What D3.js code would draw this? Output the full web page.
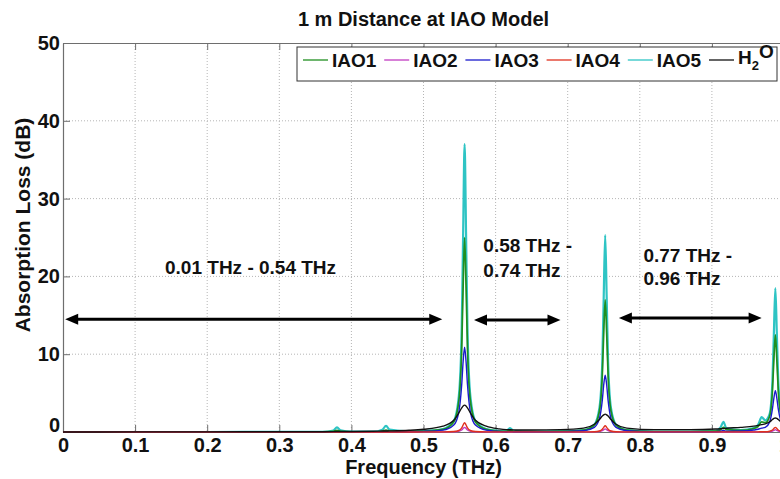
<!DOCTYPE html>
<html><head><meta charset="utf-8">
<script src="https://cdn.jsdelivr.net/npm/d3@7"></script>
<style>
html,body{margin:0;padding:0;background:#fff;}
svg{display:block;font-family:"Liberation Sans",Arial,sans-serif;}
</style></head>
<body><svg id="c" width="780" height="479"></svg>
<script>
// ---- data ----
const freq = [0,0.1,0.2,0.3,0.36,0.375,0.38,0.385,0.40,0.43,0.443,0.448,0.453,0.48,0.50,0.527,0.542,0.549,0.553,0.555,0.557,0.559,0.561,0.565,0.572,0.587,0.605,0.615,0.62,0.625,0.65,0.69,0.722,0.737,0.744,0.748,0.750,0.752,0.754,0.756,0.760,0.767,0.782,0.82,0.87,0.905,0.912,0.916,0.92,0.94,0.958,0.964,0.969,0.974,0.980,0.984,0.986,0.988,0.990,0.992,0.996,1.0];
const iao5 = [0,0,0,0.02,0.03,0.2,0.6,0.2,0.04,0.05,0.3,0.8,0.3,0.08,0.12,0.37,1.42,4.6,13.3,25.7,37,25.7,13.3,4.6,1.42,0.37,0.15,0.15,0.5,0.15,0.06,0.1,0.25,0.97,3.1,9.1,17.6,25.3,17.6,9.1,3.1,0.97,0.25,0.06,0.05,0.15,0.6,1.3,0.5,0.25,0.5,0.9,1.9,1.5,2.3,6.65,12.85,18.5,12.85,6.65,2.3,1.09];
const iao1 = [0,0,0,0.01,0.02,0.08,0.2,0.08,0.02,0.03,0.1,0.25,0.1,0.06,0.1,0.34,1.29,4.0,10.8,18.8,25,18.8,10.8,4.0,1.29,0.34,0.12,0.08,0.2,0.08,0.04,0.08,0.23,0.88,2.7,7.4,12.8,17,12.8,7.4,2.7,0.88,0.23,0.05,0.04,0.1,0.3,0.6,0.3,0.2,0.45,0.7,1.3,1.2,2.0,5.4,9.4,12.5,9.4,5.4,2.0,0.98];
const iao3 = [0,0,0,0,0,0.02,0.05,0.02,0,0.01,0.03,0.06,0.03,0.04,0.08,0.24,0.9,2.6,6.1,9.1,10.9,9.1,6.1,2.6,0.9,0.24,0.08,0.04,0.06,0.04,0.03,0.05,0.16,0.6,1.75,4.1,6.1,7.3,6.1,4.1,1.75,0.6,0.16,0.04,0.03,0.05,0.1,0.2,0.1,0.12,0.25,0.35,0.5,0.6,1.27,3.0,4.4,5.3,4.4,3.0,1.27,0.65];
const h2o  = [0,0.01,0.02,0.03,0.04,0.05,0.06,0.06,0.07,0.1,0.12,0.13,0.14,0.22,0.35,0.75,1.5,2.45,3.1,3.35,3.45,3.35,3.1,2.45,1.5,0.75,0.4,0.3,0.28,0.27,0.25,0.3,0.5,1.0,1.6,2.05,2.2,2.3,2.2,2.05,1.6,1.0,0.5,0.3,0.3,0.38,0.42,0.45,0.48,0.6,0.75,0.85,0.95,1.05,1.3,1.6,1.75,1.8,1.75,1.6,1.3,1.0];
const iao4 = [0,0,0,0,0,0,0,0,0,0,0,0,0,0,0.01,0.02,0.06,0.19,0.52,0.9,1.2,0.9,0.52,0.19,0.06,0.02,0.01,0.01,0.01,0.01,0.01,0.01,0.01,0.04,0.13,0.35,0.6,0.8,0.6,0.35,0.13,0.04,0.01,0.01,0.01,0.01,0.01,0.01,0.01,0.01,0.01,0.02,0.03,0.03,0.1,0.26,0.45,0.6,0.45,0.26,0.1,0.05];
const iao2 = [0,0,0,0,0,0,0,0,0,0,0,0,0,0,0.01,0.01,0.03,0.1,0.26,0.45,0.6,0.45,0.26,0.1,0.03,0.01,0,0,0,0,0,0,0.01,0.02,0.07,0.18,0.3,0.4,0.3,0.18,0.07,0.02,0.01,0,0,0,0,0,0,0,0,0.01,0.02,0.02,0.05,0.13,0.22,0.3,0.22,0.13,0.05,0.02];

const seriesNames = ["IAO1","IAO2","IAO3","IAO4","IAO5","H2O"];
const seriesValues = [iao1, iao2, iao3, iao4, iao5, h2o];
const seriesColors = ["#1f8f1f","#c23cc2","#1a1acc","#e0301e","#2ec4c4","#111111"];
const drawOrder = [4,0,1,2,3,5];

const xTicks = [0,0.1,0.2,0.3,0.4,0.5,0.6,0.7,0.8,0.9,1];
const xTickLabels = ["0","0.1","0.2","0.3","0.4","0.5","0.6","0.7","0.8","0.9","1"];
const yTicks = [0,10,20,30,40,50];
const yTickLabels = ["0","10","20","30","40","50"];

// annotation ranges (THz, dB) and labels
const arrowFrom = [0.003, 0.570, 0.771];
const arrowTo   = [0.526, 0.690, 0.969];
const arrowY    = [14.5, 14.4, 14.65];
const bandLabels = [["0.01 THz - 0.54 THz"],["0.58 THz -","0.74 THz"],["0.77 THz -","0.96 THz"]];
const labelX = [0.1415, 0.583, 0.805];
const labelY = [[21.1],[24.0,20.8],[22.7,19.7]];

// ---- chart ----
const svg = d3.select("#c");
const L=63, R=784, T=43, B=432;
const x = d3.scaleLinear().domain([0,1]).range([L,R]);
const y = d3.scaleLinear().domain([0,50]).range([B,T]);

svg.append("defs").append("clipPath").attr("id","clip")
  .append("rect").attr("x",L).attr("y",T).attr("width",R-L).attr("height",B-T+1);

// grid
const grid = svg.append("g");
grid.selectAll("line.gx").data(xTicks.filter(d=>d>0&&d<1)).join("line")
  .attr("x1",d=>x(d)).attr("x2",d=>x(d)).attr("y1",T).attr("y2",B)
  .attr("stroke","#b5b5b5").attr("stroke-width",1).attr("stroke-dasharray","1,2");
grid.selectAll("line.gy").data(yTicks.filter(d=>d>0&&d<50)).join("line")
  .attr("x1",L).attr("x2",R).attr("y1",d=>y(d)).attr("y2",d=>y(d))
  .attr("stroke","#b5b5b5").attr("stroke-width",1).attr("stroke-dasharray","1,2");

// axes
const axB = svg.append("g").attr("transform",`translate(0,${B})`)
  .call(d3.axisBottom(x).tickValues(xTicks).tickFormat((d,i)=>xTickLabels[i]).tickSizeInner(-7).tickSizeOuter(0).tickPadding(6));
const axT = svg.append("g").attr("transform",`translate(0,${T})`)
  .call(d3.axisTop(x).tickValues(xTicks).tickFormat("").tickSizeInner(-7).tickSizeOuter(0));
const axL = svg.append("g").attr("transform",`translate(${L},0)`)
  .call(d3.axisLeft(y).tickValues(yTicks).tickFormat((d,i)=>yTickLabels[i]).tickSizeInner(-7).tickSizeOuter(0).tickPadding(3));
[axB,axT,axL].forEach(a=>{
  a.selectAll("path.domain").attr("stroke","#6e6e6e").attr("stroke-width",1.2);
  a.selectAll(".tick line").attr("stroke","#6e6e6e").attr("stroke-width",1);
  a.selectAll("text").attr("fill","#111").style("font-size","20px").style("font-weight","bold")
   .style("font-family","'Liberation Sans',Arial,sans-serif");
});
axL.selectAll(".tick").filter(d=>d===0).select("text").attr("dy","-0.05em");

// lines
const line = d3.line().x((d,i)=>x(freq[i])).y(d=>y(d)).curve(d3.curveMonotoneX);
const lg = svg.append("g").attr("clip-path","url(#clip)");
drawOrder.forEach(k=>{
  lg.append("path").datum(seriesValues[k]).attr("d",line)
    .attr("fill","none").attr("stroke",seriesColors[k])
    .attr("stroke-width", k===4?2.2:(k===0?1.7:1.4)).attr("stroke-linejoin","round");
});

// arrows
const ag = svg.append("g");
arrowFrom.forEach((f,i)=>{
  const x1=x(f), x2=x(arrowTo[i]), yy=y(arrowY[i]);
  const hl=13, hw=5.5;
  ag.append("line").attr("x1",x1+hl-2).attr("x2",x2-hl+2).attr("y1",yy).attr("y2",yy)
    .attr("stroke","#000").attr("stroke-width",3);
  ag.append("path").attr("d",`M${x1},${yy}L${x1+hl},${yy-hw}L${x1+hl},${yy+hw}Z`).attr("fill","#000");
  ag.append("path").attr("d",`M${x2},${yy}L${x2-hl},${yy-hw}L${x2-hl},${yy+hw}Z`).attr("fill","#000");
});
bandLabels.forEach((lines,i)=>{
  lines.forEach((t,j)=>{
    svg.append("text").attr("x",x(labelX[i])).attr("y",y(labelY[i][j]))
      .attr("dy","0.35em").attr("fill","#111")
      .style("font-size","19px").style("font-weight","bold").text(t);
  });
});

// title and axis titles
svg.append("text").attr("x",(L+R)/2).attr("y",26).attr("text-anchor","middle")
  .attr("fill","#111").style("font-size","20px").style("font-weight","bold").text("1 m Distance at IAO Model");
svg.append("text").attr("x",(L+R)/2).attr("y",474).attr("text-anchor","middle")
  .attr("fill","#111").style("font-size","20px").style("font-weight","bold").text("Frequency (THz)");
svg.append("text").attr("transform","translate(30,225) rotate(-90)").attr("text-anchor","middle")
  .attr("fill","#111").style("font-size","21px").style("font-weight","bold").text("Absorption Loss (dB)");

// legend
const leg = svg.append("g");
leg.append("rect").attr("x",297).attr("y",47).attr("width",480).attr("height",34)
  .attr("fill","#fff").attr("stroke","#333").attr("stroke-width",1);
seriesNames.forEach((n,i)=>{
  const lx = 303 + i*81.2, ly = 60;
  leg.append("line").attr("x1",lx).attr("x2",lx+25).attr("y1",ly).attr("y2",ly)
    .attr("stroke",seriesColors[i]).attr("stroke-width",1.3);
  const t = leg.append("text").attr("x",lx+29).attr("y",ly).attr("dy","0.36em")
    .attr("fill","#111").style("font-size","19px").style("font-weight","bold");
  if(n==="H2O"){
    t.append("tspan").text("H").attr("dy","0.2em");
    t.append("tspan").text("2").style("font-size","13px").attr("dy","0.45em");
    t.append("tspan").text("O").attr("dy","-0.6em");
  } else t.text(n);
});
</script></body></html>
